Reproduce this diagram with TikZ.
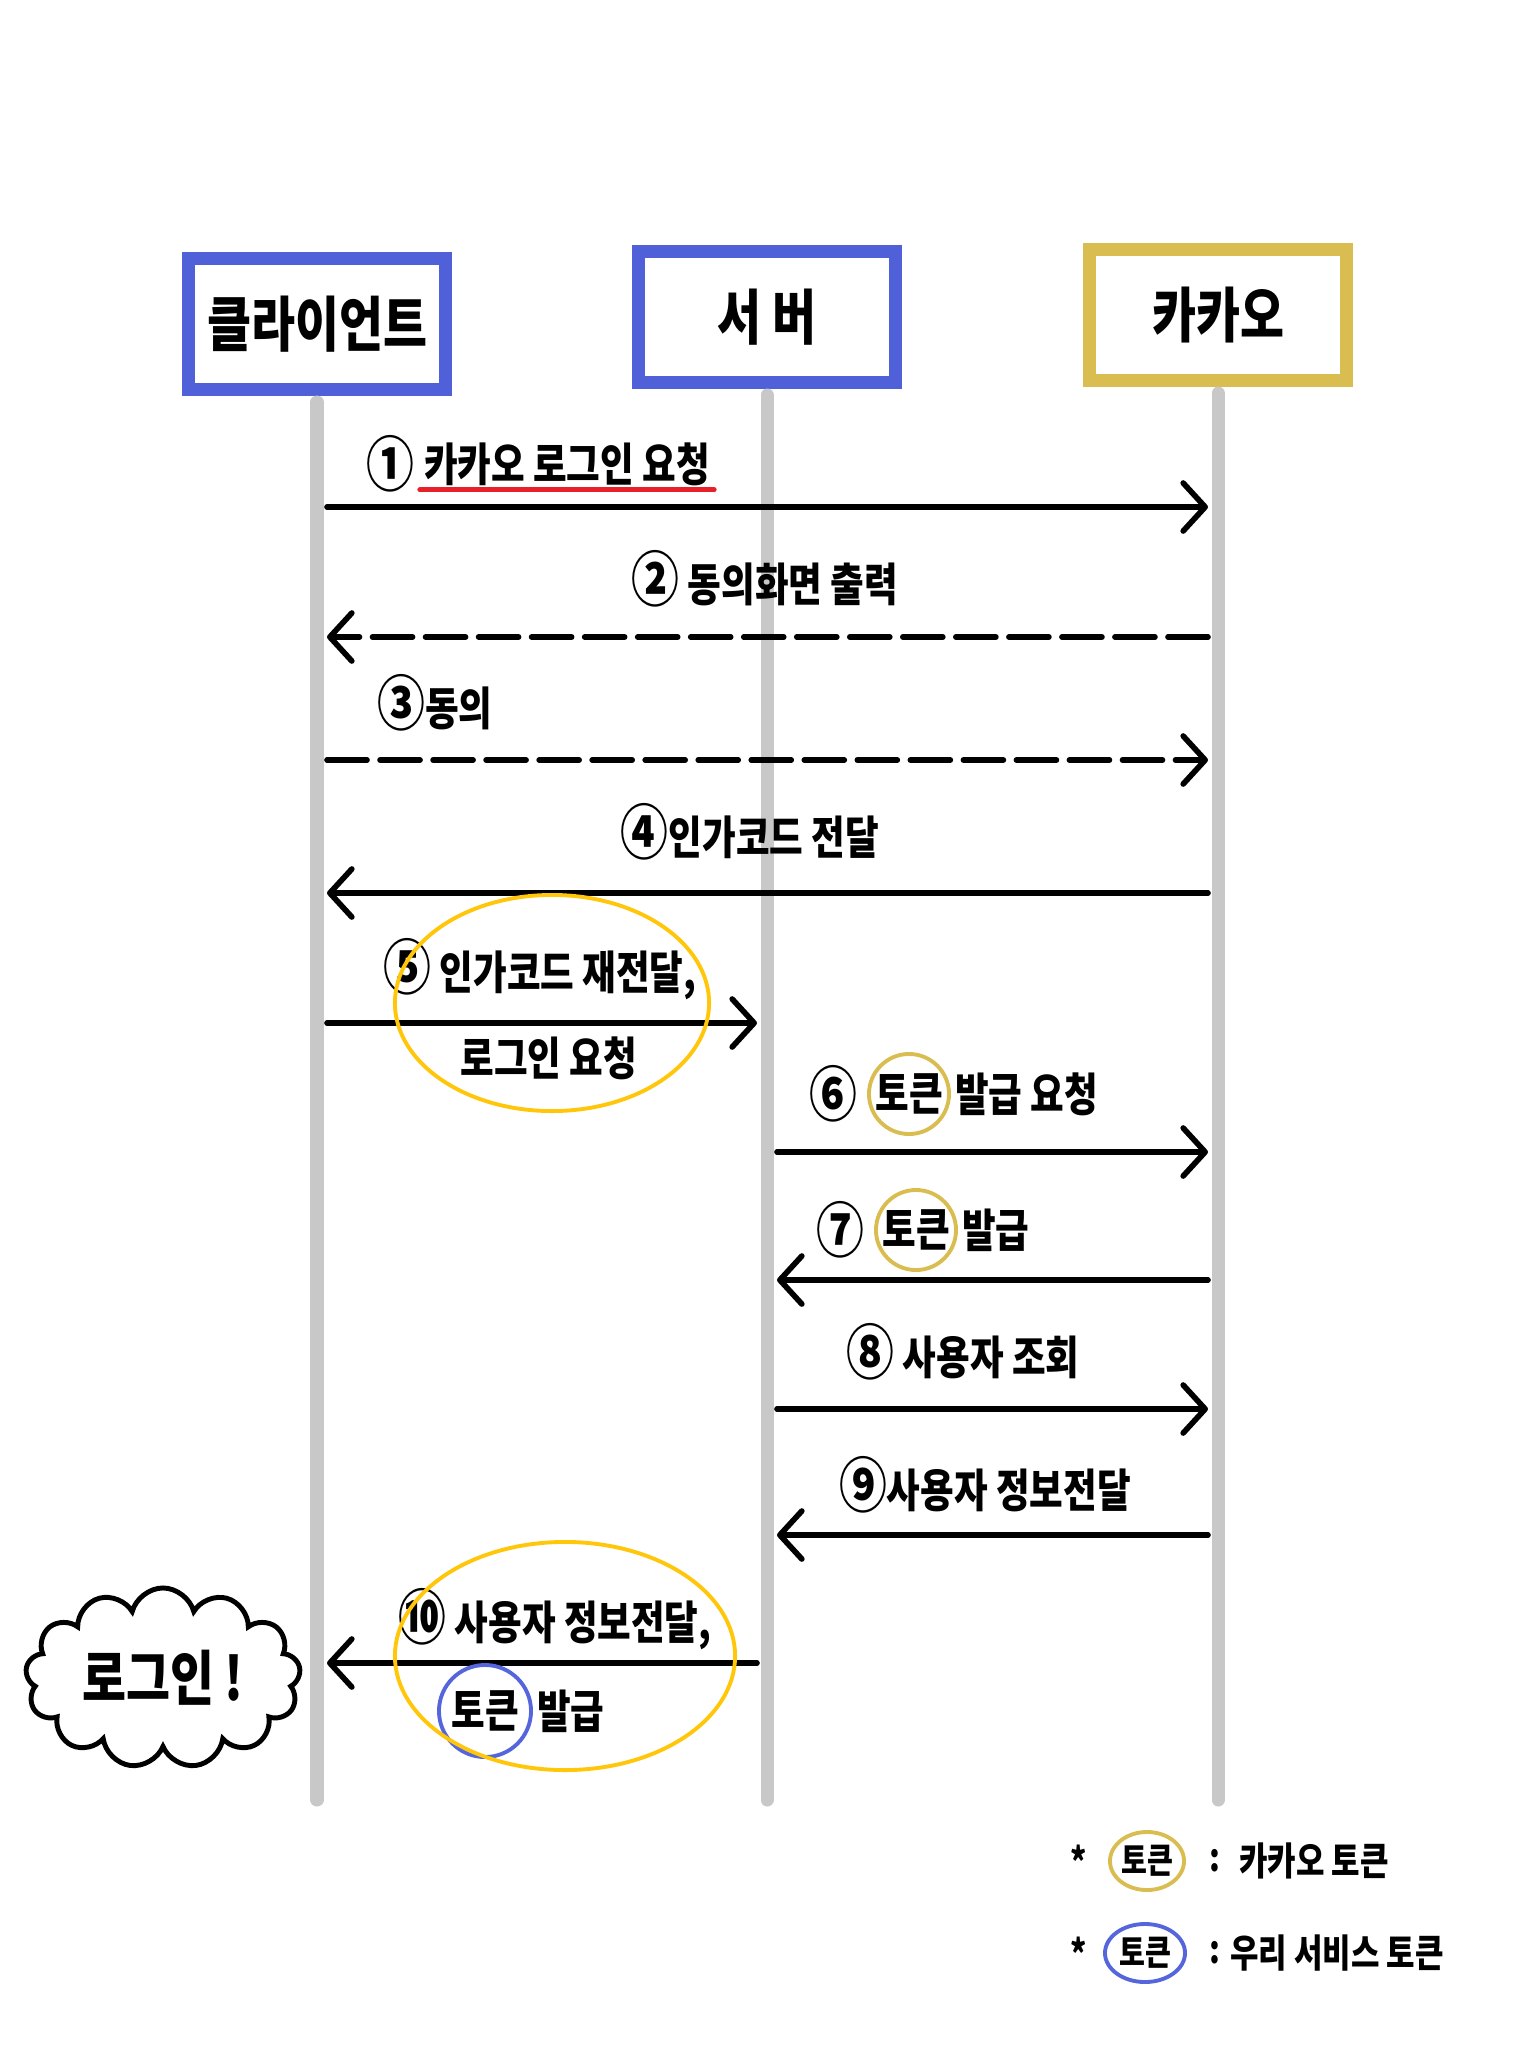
\documentclass[tikz,border=0pt]{standalone}
\usepackage{fontspec}
\setmainfont{Noto Sans CJK KR}[FakeStretch=0.8]
\usetikzlibrary{arrows.meta,positioning,shapes.geometric,shapes.symbols}
\definecolor{frameblue}{HTML}{5060D8}
\definecolor{framegold}{HTML}{D9BD50}
\definecolor{lifegray}{HTML}{C8C8C8}
\definecolor{markyellow}{HTML}{FFC60A}
\definecolor{markred}{HTML}{E8202A}
\definecolor{markblue}{HTML}{5566DD}
\newcommand\cnum[1]{{\fontsize{17}{15}\selectfont #1}}

\begin{document}
\begin{tikzpicture}[
	x=0.01cm, y=-0.01cm,
	actor/.style={ draw, line width=3.7pt, fill=white, minimum width=2.56cm, minimum height=1.31cm, font=\fontsize{17}{19}\selectfont\bfseries },
	life/.style={ lifegray, line width=3.7pt, line cap=round, shorten <=0.6mm },
	msg/.style={ line width=1.6pt, line cap=round, shorten <=1mm, shorten >=1mm, -{Straight Barb[length=2.2mm,width=4.8mm,round]} },
	dashmsg/.style={ msg, dash pattern=on 4mm off 1.3mm },
	lbl/.style={ font=\fontsize{13}{15}\selectfont\bfseries, inner sep=1pt },
	tok/.style={ lbl, circle, draw, line width=1.1pt, inner sep=0pt, minimum size=8mm },
	ring/.style={ ellipse, draw=markyellow, line width=1.1pt, inner sep=0pt },
	legtok/.style={ ellipse, draw, line width=1.1pt, inner sep=0pt, minimum height=5.8mm, font=\fontsize{10}{12}\selectfont\bfseries },
	leg/.style={ font=\fontsize{11}{13}\selectfont\bfseries, inner sep=1pt }
]
\useasboundingbox (0,0) rectangle (1536,2048);

\node at (317,324) (cl) [actor,draw=frameblue] {클라이언트};
\node at (767,317) (sv) [actor,draw=frameblue] {서 버};
\node at (1218,315) (kk) [actor,draw=framegold] {카카오};

\coordinate (bot) at (0,1800);
\draw[life] (cl.south) to (cl.south |- bot);
\draw[life] (sv.south) to (sv.south |- bot);
\draw[life] (kk.south) to (kk.south |- bot);

\coordinate (a1) at (0,507);
\coordinate (a2) at (0,637);
\coordinate (a3) at (0,760);
\coordinate (a4) at (0,893);
\coordinate (a5) at (0,1023);
\coordinate (a6) at (0,1152);
\coordinate (a7) at (0,1280);
\coordinate (a8) at (0,1409);
\coordinate (a9) at (0,1535);
\coordinate (a10) at (0,1663);

\draw[msg] (cl |- a1) to (kk |- a1);
\draw[dashmsg] (kk |- a2) to (cl |- a2);
\draw[dashmsg] (cl |- a3) to (kk |- a3);
\draw[msg] (kk |- a4) to (cl |- a4);
\draw[msg] (cl |- a5) to (sv |- a5);
\draw[msg] (sv |- a6) to (kk |- a6);
\draw[msg] (kk |- a7) to (sv |- a7);
\draw[msg] (sv |- a8) to (kk |- a8);
\draw[msg] (kk |- a9) to (sv |- a9);
\draw[msg] (sv |- a10) to (cl |- a10);

\node at (390,464) (n1) [lbl] {\cnum{①}};
\node at (567,464) (t1) [lbl] {카카오 로그인 요청};
\draw[markred,line width=1.4pt,line cap=round] (t1.south west) to (t1.south east);

\node at (765,579) (t2) [lbl] {\cnum{②} 동의화면 출력};
\node at (435,703) (t3) [lbl] {\cnum{③}동의};
\node at (750,832) (t4) [lbl] {\cnum{④}인가코드 전달};

\node at (540,969) (t5) [lbl] {\cnum{⑤} 인가코드 재전달,};
\node at (549,1058) (u5) [lbl] {로그인 요청};
\node at (552,1003) (e5) [ring,minimum width=3.14cm,minimum height=2.16cm] {};

\node at (909,1094) (k6) [tok,draw=framegold] {토큰};
\node [lbl,left=0.6mm of k6] (n6) {\cnum{⑥}};
\node [lbl,right=0mm of k6] (t6) {발급 요청};

\node at (916,1230) (k7) [tok,draw=framegold] {토큰};
\node [lbl,left=0.6mm of k7] (n7) {\cnum{⑦}};
\node [lbl,right=0mm of k7] (t7) {발급};

\node at (963,1352) (t8) [lbl] {\cnum{⑧} 사용자 조회};
\node at (985,1485) (t9) [lbl] {\cnum{⑨}사용자 정보전달};

\node at (555,1619) (t10) [lbl] {\cnum{⑩} 사용자 정보전달,};
\node at (485,1711) (k10) [tok,draw=markblue,minimum size=9.2mm] {토큰};
\node [lbl,right=0mm of k10] (u10) {발급};
\node at (565,1656) (e10) [ring,minimum width=3.4cm,minimum height=2.28cm] {};

\node at (163,1678) (done) [cloud,cloud puffs=13,cloud ignores aspect,draw,line width=1.4pt,minimum width=2.7cm,minimum height=1.8cm,font=\fontsize{17}{19}\selectfont\bfseries] {로그인 !};

\node at (1079,1861) (s1) [leg] {*};
\node at (1147,1861) (g1) [legtok,draw=framegold,minimum width=7.4mm] {토큰};
\node at (1215,1861) (c1) [leg] {:};
\node at (1314,1861) (d1) [leg] {카카오 토큰};

\node at (1079,1953) (s2) [leg] {*};
\node at (1145,1953) (g2) [legtok,draw=markblue,minimum width=8mm] {토큰};
\node at (1215,1953) (c2) [leg] {:};
\node at (1337,1953) (d2) [leg] {우리 서비스 토큰};

\end{tikzpicture}
\end{document}
